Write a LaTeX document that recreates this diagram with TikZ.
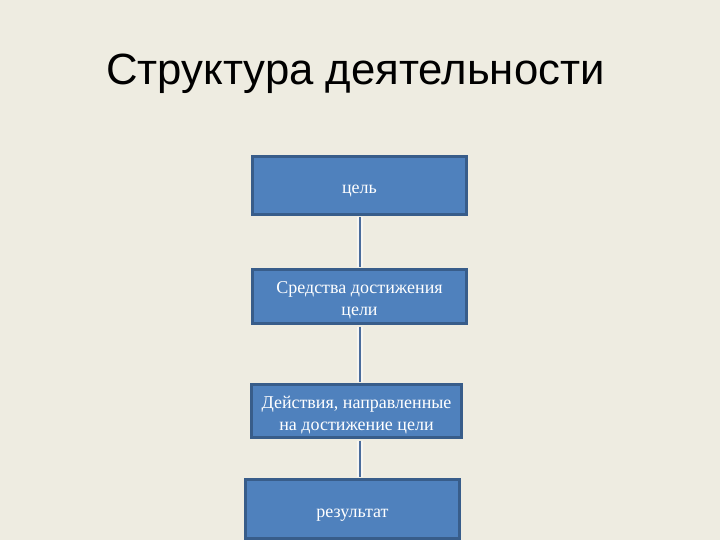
\documentclass[tikz,border=0pt]{standalone}
\usepackage{fontspec}
\setmainfont{Liberation Serif}
\newfontfamily\titlefont{Liberation Sans}
\usetikzlibrary{positioning}
\definecolor{bgbeige}{HTML}{EEECE1}
\definecolor{boxblue}{HTML}{4F81BD}
\definecolor{boxedge}{HTML}{385D8A}
\definecolor{linkblue}{HTML}{4A6C9B}
\newcommand{\boxstrut}{\rule{0pt}{20pt}}

\begin{document}
\begin{tikzpicture}[x=1pt,y=-1pt,font=\fontsize{18}{22}\selectfont,
  box/.style={draw=boxedge,line width=3pt,fill=boxblue,text=white,align=center,minimum width=214pt,inner sep=2pt},
  link/.style={draw=linkblue,line width=2pt,shorten <=1.5pt,shorten >=1.5pt,preaction={draw=white!55!bgbeige,line width=6pt,shorten <=1.5pt,shorten >=1.5pt}}]
\fill[bgbeige] (0,0) rectangle (720,540);
\useasboundingbox (0,0) rectangle (720,540);
\node[font=\titlefont\fontsize{43.7}{50}\selectfont,anchor=base] (title) at (355.5,85) {Структура деятельности};
\node[box,minimum height=58pt] (goal) at (359.5,185.5) {\boxstrut цель};
\node[box,minimum height=54pt,below=52pt of goal] (means) {\boxstrut Средства достижения\\цели};
\node[box,minimum height=53pt,minimum width=210pt,below=58pt of means,xshift=-3pt] (action) {\boxstrut Действия, направленные\\на достижение цели};
\node[box,minimum height=59pt,below=39pt of action,xshift=-4pt] (result) {\boxstrut результат};
\foreach \s/\t in {goal/means,means/action,action/result}\draw[link] (goal.south |- \s.south)--(goal.south |- \t.north);
\end{tikzpicture}
\end{document}
